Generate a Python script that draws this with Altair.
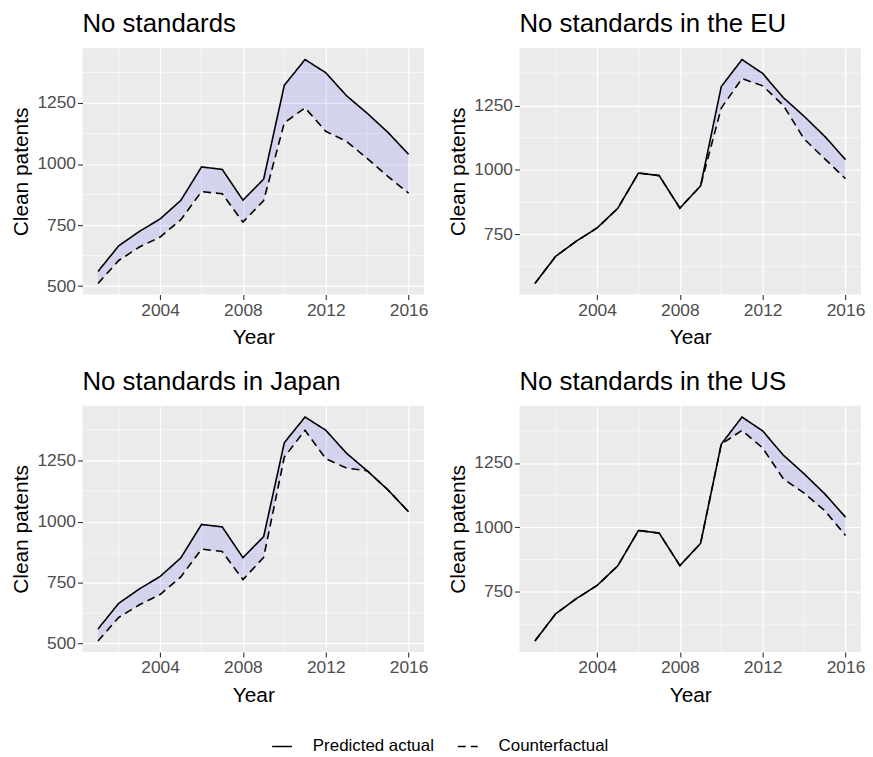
import altair as alt
import pandas as pd

years = list(range(2001, 2017))
predicted_actual = [560, 665, 724, 775, 851, 988, 978, 852, 938, 1323, 1428, 1374, 1280, 1208, 1130, 1040]
cf_none = [511, 605, 660, 701, 772, 887, 878, 762, 850, 1169, 1230, 1134, 1093, 1023, 949, 881]
cf_eu = [560, 665, 724, 775, 851, 988, 978, 852, 938, 1240, 1354, 1326, 1250, 1120, 1043, 966]
cf_japan = [511, 607, 659, 701, 773, 887, 877, 762, 853, 1264, 1374, 1257, 1219, 1208, 1130, 1040]
cf_us = [560, 665, 724, 775, 851, 988, 978, 852, 938, 1323, 1376, 1308, 1188, 1133, 1065, 969]

panel_titles = ["No standards", "No standards in the EU", "No standards in Japan", "No standards in the US"]
series_names = ["Predicted actual", "Counterfactual"]
x_ticks = [2004, 2008, 2012, 2016]
x_minor = [2002, 2006, 2010, 2014]
y_ticks_all = [500, 750, 1000, 1250]
y_minor_all = [625, 875, 1125, 1375]

FONT = "Liberation Sans"
W, H = 344, 248


def panel(title, cf):
    lo = min(min(predicted_actual), min(cf))
    hi = max(max(predicted_actual), max(cf))
    pad = 0.05 * (hi - lo)
    ydom = [lo - pad, hi + pad]
    xs = alt.Scale(domain=[2000.25, 2016.75], nice=False, zero=False)
    ys = alt.Scale(domain=ydom, nice=False, zero=False)
    xaxis = alt.Axis(values=x_ticks, format="d", title="Year")
    yaxis = alt.Axis(values=[v for v in y_ticks_all if ydom[0] <= v <= ydom[1]],
                     format="d", title="Clean patents")

    wide = pd.DataFrame({"Year": years, "actual": predicted_actual, "cf": cf})
    long = pd.DataFrame({
        "Year": years + years,
        "value": predicted_actual + cf,
        "series": [series_names[0]] * len(years) + [series_names[1]] * len(years),
    })
    ymin = pd.DataFrame({"v": [v for v in y_minor_all if ydom[0] <= v <= ydom[1]]})
    xmin = pd.DataFrame({"Year": x_minor})

    grid_y = alt.Chart(ymin).mark_rule(color="white", strokeWidth=0.6).encode(
        y=alt.Y("v:Q", scale=ys, axis=yaxis)
    )
    grid_x = alt.Chart(xmin).mark_rule(color="white", strokeWidth=0.6).encode(
        x=alt.X("Year:Q", scale=xs, axis=xaxis)
    )
    area = alt.Chart(wide).mark_area(color="blue", opacity=0.1).encode(
        x=alt.X("Year:Q", scale=xs, axis=xaxis),
        y=alt.Y("actual:Q", scale=ys, axis=yaxis),
        y2="cf:Q",
    )
    legend = alt.Legend(
        title=None, orient="none", legendX=190, legendY=692, direction="horizontal",
        symbolType="stroke", symbolStrokeColor="black", symbolStrokeWidth=1.6,
        symbolSize=400, labelFontSize=17, labelFont=FONT, labelColor="black",
        columnPadding=20, labelOffset=20,
    )
    lines = alt.Chart(long).mark_line(color="black", strokeWidth=1.6).encode(
        x=alt.X("Year:Q", scale=xs, axis=xaxis),
        y=alt.Y("value:Q", scale=ys, axis=yaxis),
        strokeDash=alt.StrokeDash(
            "series:N",
            scale=alt.Scale(domain=series_names, range=[[1, 0], [8, 5]]),
            legend=legend,
            sort=series_names,
        ),
    )
    return alt.layer(grid_y, grid_x, area, lines).properties(
        width=W, height=H,
        title=alt.TitleParams(title, anchor="start", frame="group", fontSize=26,
                              font=FONT, fontWeight="normal", color="black", offset=11),
    )


p1 = panel(panel_titles[0], cf_none)
p2 = panel(panel_titles[1], cf_eu)
p3 = panel(panel_titles[2], cf_japan)
p4 = panel(panel_titles[3], cf_us)

chart = alt.vconcat(
    alt.hconcat(p1, p2, spacing=20),
    alt.hconcat(p3, p4, spacing=20),
    spacing=20,
).resolve_scale(strokeDash="shared").resolve_legend(strokeDash="shared").properties(
    padding={"left": 3, "top": 0, "right": 0, "bottom": 0}
).configure_view(
    fill="#EBEBEB", stroke=None
).configure_axis(
    labelFont=FONT, titleFont=FONT, labelFontSize=17.5, titleFontSize=21,
    labelColor="#4D4D4D", titleColor="black", titleFontWeight="normal",
    tickColor="#333333", tickSize=5, tickWidth=1.1, domain=False,
    gridColor="white", gridWidth=1.2,
).configure_axisX(titlePadding=8, labelPadding=2).configure_axisY(titlePadding=5, labelPadding=2)

chart.save("out.html", embed_options={"renderer": "svg", "actions": False})
